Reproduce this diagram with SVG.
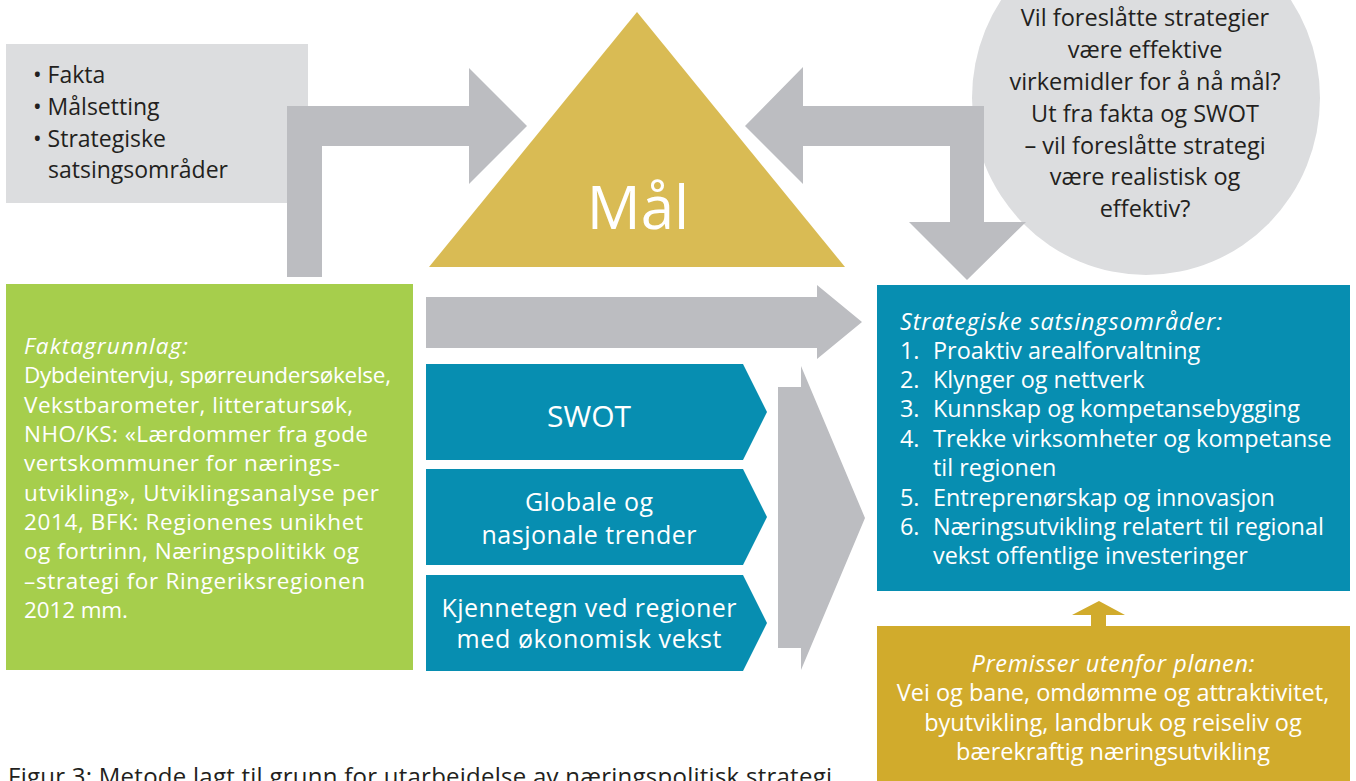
<svg xmlns="http://www.w3.org/2000/svg" width="1356" height="781" viewBox="0 0 1356 781">
<style>
text{font-family:"Open Sans","Liberation Sans",sans-serif;}
.dk{fill:#231f20;font-size:23px;}
.wh{fill:#ffffff;font-size:22.5px;}
.it{font-style:italic;}
.c{text-anchor:middle;}
.q{font-size:23.5px;}
.s{font-size:23.4px;}
.p{font-size:23.5px;}
.ch{font-size:25px;}
.arrow{fill:#bcbdc1;}
.teal{fill:#078eb1;}
</style>
<rect width="1356" height="781" fill="#ffffff"/>
<g id="fakta-box">
<rect x="6" y="44" width="302" height="159" fill="#dcdddf"/>
<text class="dk" x="33" y="83">• Fakta</text>
<text class="dk" x="33" y="115">• Målsetting</text>
<text class="dk" x="33" y="147">• Strategiske</text>
<text class="dk" x="48" y="178">satsingsområder</text>
</g>
<g id="question-circle">
<ellipse cx="1146" cy="98" rx="174" ry="177" fill="#dcdddf"/>
<text class="dk q c" x="1145" y="26">Vil foreslåtte strategier</text>
<text class="dk q c" x="1145" y="58">være effektive</text>
<text class="dk q c" x="1145" y="90">virkemidler for å nå mål?</text>
<text class="dk q c" x="1145" y="122">Ut fra fakta og SWOT</text>
<text class="dk q c" x="1145" y="154">– vil foreslåtte strategi</text>
<text class="dk q c" x="1145" y="185">være realistisk og</text>
<text class="dk q c" x="1145" y="217">effektiv?</text>
</g>
<g id="connectors">
<path class="arrow" d="M287,277 L287,106 L469,106 L469,68 L527,126 L469,184 L469,146 L322,146 L322,277 Z"/>
<path class="arrow" d="M984,106 L984,222 L1026,222 L967,280 L909,222 L950,222 L950,146 L803,146 L803,184 L745,126 L803,67 L803,106 Z"/>
<path class="arrow" d="M426,297 L817,297 L817,285 L862,322 L817,359 L817,348 L426,348 Z"/>
<path class="arrow" d="M778,387 L801,387 L801,366 L865,518 L801,670 L801,648 L778,648 Z"/>
<path fill="#d1ab2c" d="M1091,627 L1091,615 L1072,615 L1099,601 L1125,615 L1106,615 L1106,627 Z"/>
</g>
<g id="maal">
<polygon points="637,12 429,267 845,267" fill="#d9bb54"/>
<text class="wh c" x="638" y="229" style="font-size:60px">Mål</text>
</g>
<g id="faktagrunnlag">
<rect x="6" y="284" width="407" height="386" fill="#a6ce4c"/>
<text class="wh it" x="24" y="354" textLength="164">Faktagrunnlag:</text>
<text class="wh" x="24" y="383" textLength="367">Dybdeintervju, spørreundersøkelse,</text>
<text class="wh" x="24" y="413" textLength="329">Vekstbarometer, litteratursøk,</text>
<text class="wh" x="24" y="442" textLength="344">NHO/KS: «Lærdommer fra gode</text>
<text class="wh" x="24" y="471" textLength="316">vertskommuner for nærings-</text>
<text class="wh" x="24" y="501" textLength="355">utvikling», Utviklingsanalyse per</text>
<text class="wh" x="24" y="530" textLength="339">2014, BFK: Regionenes unikhet</text>
<text class="wh" x="24" y="559" textLength="335">og fortrinn, Næringspolitikk og</text>
<text class="wh" x="24" y="589" textLength="341">–strategi for Ringeriksregionen</text>
<text class="wh" x="24" y="618" textLength="104">2012 mm.</text>
</g>
<g id="swot">
<path class="teal" d="M426,364 L743,364 L767,412 L743,460 L426,460 Z"/>
<text class="wh c" x="589" y="427" style="font-size:30px">SWOT</text>
</g>
<g id="trender">
<path class="teal" d="M426,469 L743,469 L767,517 L743,565 L426,565 Z"/>
<text class="wh ch c" x="589" y="511" textLength="128">Globale og</text>
<text class="wh ch c" x="589" y="544" textLength="215">nasjonale trender</text>
</g>
<g id="kjennetegn">
<path class="teal" d="M426,575 L743,575 L767,623 L743,671 L426,671 Z"/>
<text class="wh ch c" x="589" y="617" textLength="295">Kjennetegn ved regioner</text>
<text class="wh ch c" x="589" y="648" textLength="265">med økonomisk vekst</text>
</g>
<g id="strategiske">
<rect x="877" y="285" width="473" height="306" class="teal"/>
<text class="wh s it" x="900" y="330" textLength="322">Strategiske satsingsområder:</text>
<text class="wh s" x="900" y="359">1.</text><text class="wh s" x="933" y="359">Proaktiv arealforvaltning</text>
<text class="wh s" x="900" y="388">2.</text><text class="wh s" x="933" y="388">Klynger og nettverk</text>
<text class="wh s" x="900" y="417">3.</text><text class="wh s" x="933" y="417">Kunnskap og kompetansebygging</text>
<text class="wh s" x="900" y="447">4.</text><text class="wh s" x="933" y="447">Trekke virksomheter og kompetanse</text>
<text class="wh s" x="933" y="476">til regionen</text>
<text class="wh s" x="900" y="506">5.</text><text class="wh s" x="933" y="506">Entreprenørskap og innovasjon</text>
<text class="wh s" x="900" y="535">6.</text><text class="wh s" x="933" y="535">Næringsutvikling relatert til regional</text>
<text class="wh s" x="933" y="564">vekst offentlige investeringer</text>
</g>
<g id="premisser">
<rect x="877" y="626" width="473" height="160" fill="#d1ab2c"/>
<text class="wh p it c" x="1113" y="672" textLength="283">Premisser utenfor planen:</text>
<text class="wh p c" x="1113" y="701">Vei og bane, omdømme og attraktivitet,</text>
<text class="wh p c" x="1113" y="731">byutvikling, landbruk og reiseliv og</text>
<text class="wh p c" x="1113" y="760">bærekraftig næringsutvikling</text>
</g>
<g id="caption">
<text class="dk" x="8" y="785" style="font-size:24px" textLength="824">Figur 3: Metode lagt til grunn for utarbeidelse av næringspolitisk strategi</text>
</g>
</svg>
